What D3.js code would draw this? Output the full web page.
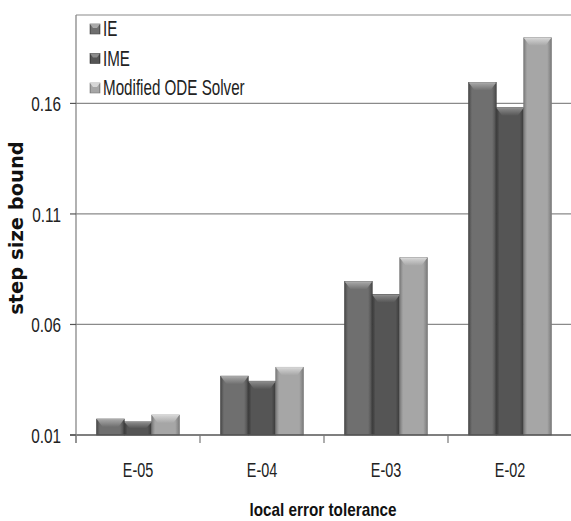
<!DOCTYPE html>
<html>
<head>
<meta charset="utf-8">
<script src="https://cdn.jsdelivr.net/npm/d3@7"></script>
<style>
  body { margin: 0; background: #fff; }
  svg text { font-family: "Liberation Sans", Arial, sans-serif; }
</style>
</head>
<body>
<div id="chart"></div>
<script>
// data
const categories = ["E-05", "E-04", "E-03", "E-02"];
const seriesNames = ["IE", "IME", "Modified ODE Solver"];
const ieValues = [0.0172, 0.0366, 0.0794, 0.1695];
const imeValues = [0.0159, 0.0343, 0.0735, 0.158];
const modValues = [0.019, 0.0406, 0.0902, 0.1897];
const yTicks = [0.01, 0.06, 0.11, 0.16];

const width = 571, height = 521;
const margin = {top: 15, right: -1, bottom: 86, left: 76};

const svg = d3.select("#chart").append("svg")
  .attr("width", width)
  .attr("height", height);

// the original uses a narrow font, so squeeze text horizontally
function narrow(sel, x, y, sx) {
  return sel.attr("transform", `translate(${x},${y}) scale(${sx},1)`);
}

// colours: base, light (bevel top), dark (edge)
const colors = [
  {base: "#6f6f6f", light: "#a9a9a9", dark: "#4a4a4a"},
  {base: "#555555", light: "#8c8c8c", dark: "#383838"},
  {base: "#a6a6a6", light: "#d6d6d6", dark: "#7c7c7c"}
];

const defs = svg.append("defs");
colors.forEach((c, i) => {
  const g = defs.append("linearGradient").attr("id", "bar" + i)
    .attr("x1", 0).attr("x2", 1).attr("y1", 0).attr("y2", 0);
  g.append("stop").attr("offset", "0%").attr("stop-color", c.dark);
  g.append("stop").attr("offset", "12%").attr("stop-color", c.base);
  g.append("stop").attr("offset", "85%").attr("stop-color", c.base);
  g.append("stop").attr("offset", "100%").attr("stop-color", c.dark);
  const t = defs.append("linearGradient").attr("id", "top" + i)
    .attr("x1", 0).attr("x2", 0).attr("y1", 0).attr("y2", 1);
  t.append("stop").attr("offset", "0%").attr("stop-color", c.light);
  t.append("stop").attr("offset", "100%").attr("stop-color", c.base);
});

const x = d3.scaleBand()
  .domain(categories)
  .range([margin.left, width - margin.right])
  .paddingInner(0)
  .paddingOuter(0);

const x1 = d3.scaleBand()
  .domain(seriesNames)
  .range([0, x.bandwidth()])
  .paddingOuter(0.75)
  .paddingInner(0);

const y = d3.scaleLinear()
  .domain([0.01, 0.2])
  .range([height - margin.bottom, margin.top]);

const plotRight = width - margin.right;

// gridlines
svg.append("g")
  .selectAll("line")
  .data(yTicks.slice(1))
  .join("line")
    .attr("x1", margin.left).attr("x2", plotRight)
    .attr("y1", d => y(d)).attr("y2", d => y(d))
    .attr("stroke", "#8a8a8a").attr("stroke-width", 1.2);

// top border
svg.append("line")
  .attr("x1", margin.left).attr("x2", plotRight)
  .attr("y1", margin.top).attr("y2", margin.top)
  .attr("stroke", "#8a8a8a").attr("stroke-width", 1.2);

// bars
const table = categories.map((c, i) => ({cat: c, vals: [ieValues[i], imeValues[i], modValues[i]]}));

const groups = svg.append("g")
  .selectAll("g")
  .data(table)
  .join("g")
    .attr("transform", d => `translate(${x(d.cat)},0)`);

groups.each(function(d) {
  const g = d3.select(this);
  d.vals.forEach((v, i) => {
    const bx = x1(seriesNames[i]);
    const bw = x1.bandwidth();
    const top = y(v);
    const bottom = y(0.01);
    const bev = Math.min(8, (bottom - top) / 2);
    g.append("rect")
      .attr("x", bx).attr("y", top)
      .attr("width", bw).attr("height", bottom - top)
      .attr("fill", `url(#bar${i})`)
      .attr("stroke", colors[i].dark).attr("stroke-width", 0.8);
    // bevel on top
    g.append("path")
      .attr("d", `M${bx},${top} L${bx + bw},${top} L${bx + bw - 6},${top + bev} L${bx + 6},${top + bev} Z`)
      .attr("fill", `url(#top${i})`);
    g.append("line")
      .attr("x1", bx + 1).attr("x2", bx + bw - 1)
      .attr("y1", top + 0.5).attr("y2", top + 0.5)
      .attr("stroke", colors[i].light).attr("stroke-width", 1);
  });
});

// x axis
const xAxis = svg.append("g")
  .attr("transform", `translate(0,${y(0.01)})`);
xAxis.append("line")
  .attr("x1", margin.left - 6).attr("x2", plotRight)
  .attr("stroke", "#555").attr("stroke-width", 1.3);
xAxis.selectAll("line.tick")
  .data(categories.concat(["end"]))
  .join("line")
    .attr("class", "tick")
    .attr("x1", (d, i) => i < categories.length ? x(d) : plotRight)
    .attr("x2", (d, i) => i < categories.length ? x(d) : plotRight)
    .attr("y1", 0).attr("y2", 8)
    .attr("stroke", "#777").attr("stroke-width", 1.2);
xAxis.selectAll("text")
  .data(categories)
  .join("text")
    .each(function(d) { narrow(d3.select(this), x(d) + x.bandwidth() / 2, 42, 0.74); })
    .attr("text-anchor", "middle")
    .attr("font-size", 19.5)
    .attr("fill", "#222")
    .text(d => d);

// y axis
const yAxis = svg.append("g");
yAxis.append("line")
  .attr("x1", margin.left).attr("x2", margin.left)
  .attr("y1", margin.top).attr("y2", y(0.01) + 8)
  .attr("stroke", "#888").attr("stroke-width", 1.3);
yAxis.selectAll("line.tick")
  .data(yTicks)
  .join("line")
    .attr("class", "tick")
    .attr("x1", margin.left - 6).attr("x2", margin.left)
    .attr("y1", d => y(d)).attr("y2", d => y(d))
    .attr("stroke", "#555").attr("stroke-width", 1.2);
yAxis.selectAll("text")
  .data(yTicks)
  .join("text")
    .each(function(d) { narrow(d3.select(this), 61, y(d) + 8, 0.73); })
    .attr("text-anchor", "end")
    .attr("font-size", 21)
    .attr("fill", "#222")
    .text(d => d3.format(".2f")(d));

// axis titles
svg.append("text")
  .attr("transform", `translate(23,228) rotate(-90)`)
  .attr("text-anchor", "middle")
  .style("font-family", "'DejaVu Sans', Verdana, sans-serif")
  .attr("font-weight", "bold")
  .attr("font-size", 19.5)
  .attr("fill", "#111")
  .text("step size bound");

narrow(svg.append("text"), (margin.left + plotRight) / 2 - 1, 516, 0.85)
  .attr("text-anchor", "middle")
  .attr("font-weight", "bold")
  .attr("font-size", 18)
  .attr("fill", "#111")
  .text("local error tolerance");

// legend
const legend = svg.append("g")
  .selectAll("g")
  .data(seriesNames)
  .join("g")
    .attr("transform", (d, i) => `translate(90,${36 + i * 29.5})`);
legend.append("rect")
  .attr("y", -12)
  .attr("width", 10).attr("height", 10)
  .attr("fill", (d, i) => `url(#bar${i})`)
  .attr("stroke", (d, i) => colors[i].dark).attr("stroke-width", 0.6);
legend.append("path")
  .attr("d", "M0,-12 L10,-12 L7,-8 L3,-8 Z")
  .attr("fill", (d, i) => colors[i].light);
legend.append("text")
  .each(function() { narrow(d3.select(this), 13, 0, 0.69); })
  .attr("font-size", 22)
  .attr("fill", "#222")
  .text(d => d);
</script>
</body>
</html>
